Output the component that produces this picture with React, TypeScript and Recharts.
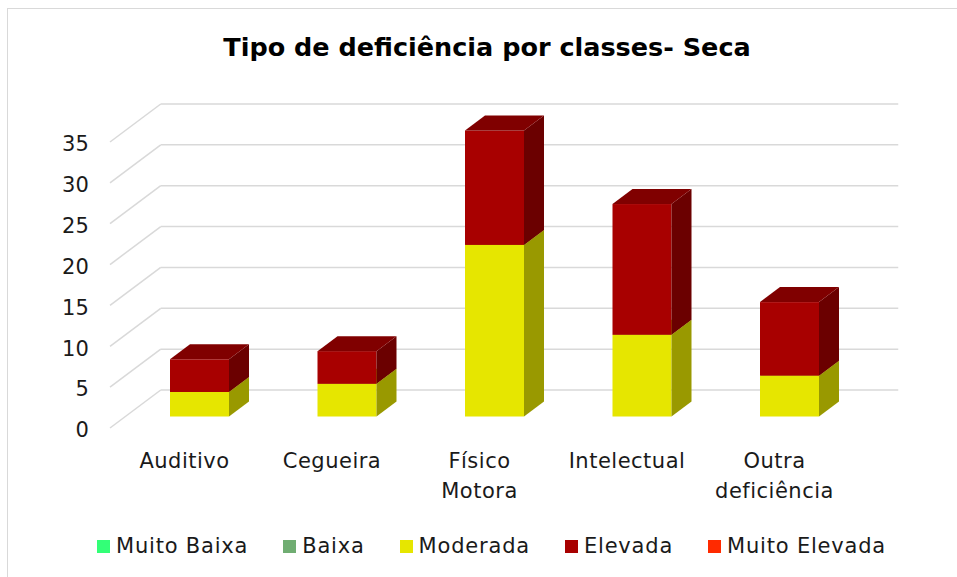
import React from "react";
import { Bar, BarChart, CartesianGrid, Legend, XAxis, YAxis } from "recharts";

const categories = ["Auditivo", "Cegueira", "Físico Motora", "Intelectual", "Outra deficiência"];
const muitoBaixa = [0, 0, 0, 0, 0];
const baixa = [0, 0, 0, 0, 0];
const moderada = [3, 4, 21, 10, 5];
const elevada = [4, 4, 14, 16, 9];
const muitoElevada = [0, 0, 0, 0, 0];
const yTicks = [0, 5, 10, 15, 20, 25, 30, 35];

const series = [
  { key: "muitoBaixa", label: "Muito Baixa", color: "#33FF77", side: "#1f9947", top: "#28cc5f" },
  { key: "baixa", label: "Baixa", color: "#70AD72", side: "#456b46", top: "#5a8a5b" },
  { key: "moderada", label: "Moderada", color: "#E6E600", side: "#999900", top: "#b8b800" },
  { key: "elevada", label: "Elevada", color: "#A80000", side: "#6B0000", top: "#800000" },
  { key: "muitoElevada", label: "Muito Elevada", color: "#FF2A00", side: "#a31b00", top: "#cc2200" },
];

const data = categories.map((name, i) => ({
  name,
  muitoBaixa: muitoBaixa[i],
  baixa: baixa[i],
  moderada: moderada[i],
  elevada: elevada[i],
  muitoElevada: muitoElevada[i],
}));

// fake 3D: wall depth and bar depth offsets
const WALL_DX = 50;
const WALL_DY = 38;
const BAR_OX = 15;
const BAR_OY = -11.5;
const BAR_DX = 20;
const BAR_DY = 15;
const FONT = '"DejaVu Sans", sans-serif';

function boxShape(front: string, side: string, top: string) {
  return (props: any) => {
    const { x, y, width, height } = props;
    if (!height || height <= 0) return <g />;
    const fx = x + BAR_OX;
    const fy = y + BAR_OY;
    const w = width;
    const h = height;
    return (
      <g>
        <rect x={fx} y={fy} width={w} height={h} fill={front} />
        <polygon
          points={`${fx + w},${fy} ${fx + w + BAR_DX},${fy - BAR_DY} ${fx + w + BAR_DX},${fy + h - BAR_DY} ${fx + w},${fy + h}`}
          fill={side}
        />
        <polygon
          points={`${fx},${fy} ${fx + BAR_DX},${fy - BAR_DY} ${fx + w + BAR_DX},${fy - BAR_DY} ${fx + w},${fy}`}
          fill={top}
        />
      </g>
    );
  };
}

function gridLine(p: any) {
  const { x1, y1, x2 } = p;
  return (
    <g key={p.key}>
      <line x1={x1 - 0.75} y1={y1} x2={x1 + WALL_DX} y2={y1 - WALL_DY} stroke="#d9d9d9" strokeWidth={1.5} />
      <line x1={x1 + WALL_DX} y1={y1 - WALL_DY} x2={x2 + WALL_DX} y2={y1 - WALL_DY} stroke="#d9d9d9" strokeWidth={1.5} />
    </g>
  );
}

function XTick(props: any) {
  const { x, y, payload } = props;
  const lines = String(payload.value).split(" ");
  return (
    <text x={x} y={y} textAnchor="middle" fill="#1a1a1a" fontSize={21} fontFamily={FONT} letterSpacing={0.5}>
      {lines.map((l, i) => (
        <tspan key={i} x={x} y={y + 40 + i * 30}>
          {l}
        </tspan>
      ))}
    </text>
  );
}

function YTick(props: any) {
  const { x, y, payload } = props;
  return (
    <text x={x - 22} y={y + 2} dy="0.35em" textAnchor="end" fill="#1a1a1a" fontSize={21} fontFamily={FONT}>
      {payload.value}
    </text>
  );
}

function LegendContent() {
  return (
    <div
      style={{
        display: "flex",
        justifyContent: "center",
        alignItems: "center",
        height: 40,
        gap: 35,
        fontFamily: FONT,
      }}
    >
      {series.map((s) => (
        <span key={s.key} style={{ display: "flex", alignItems: "center" }}>
          <span style={{ width: 13, height: 13, background: s.color, marginRight: 6 }} />
          <span style={{ fontSize: 21, letterSpacing: 0.8, color: "#1a1a1a" }}>{s.label}</span>
        </span>
      ))}
    </div>
  );
}

export default function App() {
  return (
    <div
      style={{
        position: "absolute",
        left: 0,
        top: 0,
        width: 957,
        height: 577,
        overflow: "hidden",
        background: "#fff",
        fontFamily: FONT,
      }}
    >
      <div
        style={{
          position: "absolute",
          left: 7,
          top: 8,
          width: 980,
          height: 600,
          border: "1px solid #d9d9d9",
        }}
      />
      <div
        style={{
          position: "absolute",
          left: 17,
          top: 31,
          width: 940,
          textAlign: "center",
          fontSize: 25.5,
          lineHeight: "32px",
          fontWeight: "bold",
          color: "#000",
        }}
      >
        Tipo de deficiência por classes- Seca
      </div>
      <div style={{ position: "absolute", left: 0, top: 0 }}>
        <BarChart
          width={957}
          height={577}
          data={data}
          margin={{ top: 142, right: 108.75, bottom: 11, left: 50.75 }}
          barCategoryGap="30%"
        >
          <CartesianGrid vertical={false} horizontal={gridLine} />
          <XAxis
            dataKey="name"
            axisLine={false}
            tickLine={false}
            tickSize={0}
            tickMargin={0}
            height={98}
            interval={0}
            tick={<XTick />}
          />
          <YAxis
            type="number"
            domain={[0, 35]}
            ticks={yTicks}
            axisLine={false}
            tickLine={false}
            tickSize={0}
            tickMargin={0}
            width={60}
            tick={<YTick />}
          />
          {series.map((s) => (
            <Bar
              key={s.key}
              dataKey={s.key}
              stackId="a"
              fill={s.color}
              shape={boxShape(s.color, s.side, s.top)}
              isAnimationActive={false}
            />
          ))}
          <Legend
            verticalAlign="bottom"
            height={40}
            content={<LegendContent />}
            wrapperStyle={{ left: 90, width: 803, bottom: 11 }}
          />
        </BarChart>
      </div>
    </div>
  );
}
